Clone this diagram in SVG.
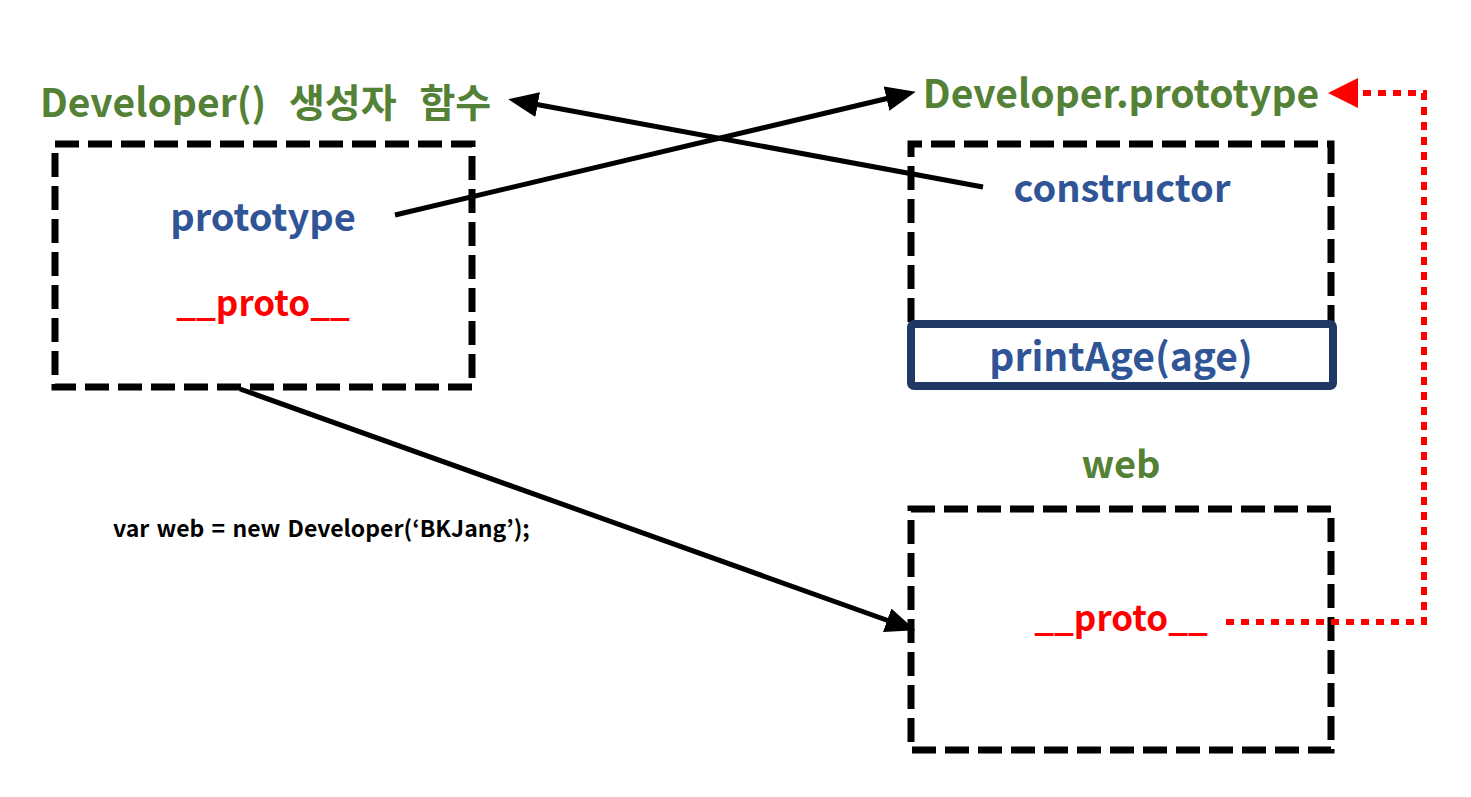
<svg xmlns="http://www.w3.org/2000/svg" width="1471" height="797" viewBox="0 0 1471 797">
<style>
.t{font-family:"Noto Sans CJK KR","Malgun Gothic","Open Sans",sans-serif;font-weight:bold}
.g{fill:#538135;font-size:38px}
.b{fill:#2F5597;font-size:38px}
.r{fill:#FF0000;font-size:35px}
.box{fill:none;stroke:#000;stroke-width:7;stroke-dasharray:24 9}
.con{fill:none;stroke:#000;stroke-width:5}
</style>
<defs>
<marker id="ah" markerWidth="6" markerHeight="5" refX="4" refY="2.5" orient="auto" markerUnits="strokeWidth"><path d="M0,0 L6,2.5 L0,5 Z" fill="#000"/></marker>
<marker id="ahr" markerWidth="5" markerHeight="5" refX="3" refY="2.5" orient="auto" markerUnits="strokeWidth"><path d="M0,0 L5,2.5 L0,5 Z" fill="#FF0000"/></marker>
</defs>
<rect width="1471" height="797" fill="#fff"/>
<g id="node-constructor-fn">
<text class="t g" x="40" y="117" style="font-size:39px" word-spacing="14">Developer() 생성자 함수</text>
<rect class="box" x="55" y="144" width="417" height="243"/>
<text class="t b" x="263" y="231" text-anchor="middle">prototype</text>
<text class="t r" x="263" y="316" text-anchor="middle">__proto__</text>
</g>
<g id="node-prototype">
<text class="t g" x="1121" y="108" text-anchor="middle" style="font-size:39px">Developer.prototype</text>
<path class="box" d="M911,322 V144 H1331 V322"/>
<text class="t b" x="1122" y="202" text-anchor="middle">constructor</text>
<rect x="911" y="324" width="422" height="62" rx="3" fill="#fff" stroke="#1F3864" stroke-width="8"/>
<text class="t b" x="1121" y="371" text-anchor="middle" style="font-size:39px">printAge(age)</text>
</g>
<g id="node-web">
<text class="t g" x="1121" y="478" text-anchor="middle">web</text>
<rect class="box" x="911" y="509" width="420" height="241"/>
<text class="t r" x="1121" y="631" text-anchor="middle">__proto__</text>
</g>
<g id="label-code">
<text class="t" x="113" y="537" font-size="23" word-spacing="2" fill="#000">var web = new Developer(‘BKJang’);</text>
</g>
<g id="connectors">
<line class="con" x1="395" y1="215" x2="906" y2="94" marker-end="url(#ah)"/>
<line class="con" x1="983" y1="187" x2="518" y2="101" marker-end="url(#ah)"/>
<line class="con" x1="240" y1="389" x2="906" y2="627" marker-end="url(#ah)"/>
<path d="M1226,622 H1424 V93 H1340" fill="none" stroke="#FF0000" stroke-width="6" stroke-dasharray="8 7" marker-end="url(#ahr)"/>
</g>
</svg>
